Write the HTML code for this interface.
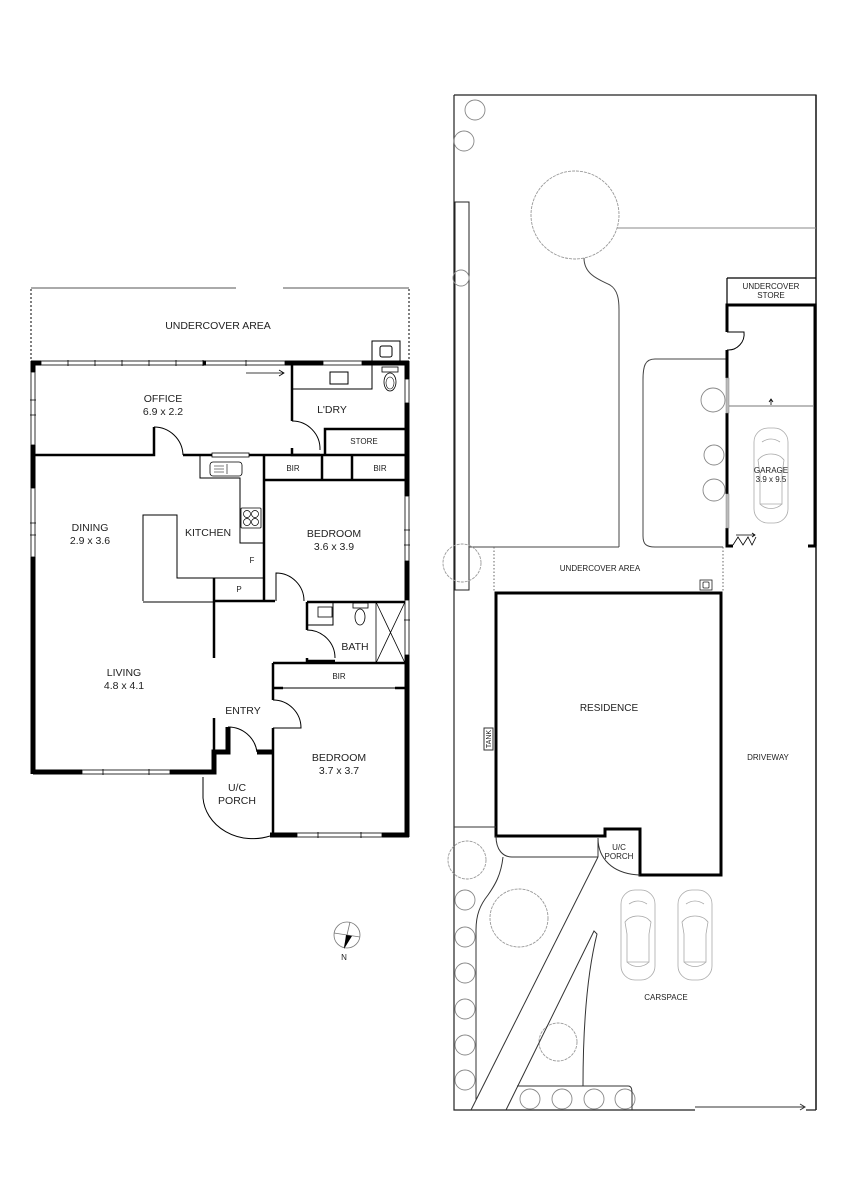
<!DOCTYPE html>
<html><head><meta charset="utf-8"><style>
html,body{margin:0;padding:0;background:#fff}
svg{display:block}
text{font-family:"Liberation Sans",sans-serif;fill:#222}
</style></head><body>
<svg width="849" height="1200" viewBox="0 0 849 1200" xmlns="http://www.w3.org/2000/svg">
<rect width="849" height="1200" fill="#fff"/>
<g fill="none" stroke="#000">
<path d="M31 289V362M409 289V362" stroke-dasharray="2,2" stroke-width="1"/>
<path d="M31 288H236M283 288H409" stroke="#555" stroke-width="1"/>
<path d="M31 363H41M285 363H323M362 363H409" stroke-width="5"/>
<rect x="41" y="361" width="244" height="4" stroke-width="0.8"/>
<rect x="323" y="361" width="39" height="4" stroke-width="0.8"/>
<path d="M68 360v6M95 360v6M122 360v6M149 360v6M176 360v6M203 360v6M246 360v6" stroke-width="0.8"/>
<path d="M203 363h3" stroke-width="5"/>
<path d="M246 373H284M279 370l5 3-5 3" stroke-width="0.8"/>
<path d="M33 361V372M33 445V488M33 557V774" stroke-width="5"/>
<rect x="31" y="372" width="4" height="73" stroke-width="0.8"/>
<rect x="31" y="488" width="4" height="69" stroke-width="0.8"/>
<path d="M30 400h6M30 415h6M30 523h6M30 535h6" stroke-width="0.8"/>
<path d="M407 361V379M407 403V496M407 561V600M407 655V837" stroke-width="5"/>
<rect x="405" y="379" width="4" height="24" stroke-width="0.8"/>
<rect x="405" y="496" width="4" height="65" stroke-width="0.8"/>
<rect x="405" y="600" width="4" height="55" stroke-width="0.8"/>
<path d="M404 530h6M404 545h6M404 620h6" stroke-width="0.8"/>
<path d="M33 455H154V427M183 455H212M249 455H405" stroke-width="2.5"/>
<path d="M154 427A29 29 0 0 1 183 455" stroke-width="1"/>
<rect x="212" y="453" width="37" height="4" stroke-width="0.8"/>
<path d="M292 365V421M292 448V455H320" stroke-width="2.5"/>
<path d="M292 421A28 28 0 0 1 320 450" stroke-width="1"/>
<path d="M292 389H372V365" stroke-width="1"/>
<rect x="330" y="372" width="18" height="12" stroke-width="1"/>
<rect x="372" y="341" width="28" height="22" stroke-width="1"/>
<rect x="380" y="346" width="12" height="11" rx="2" stroke-width="1"/>
<rect x="382" y="367" width="16" height="5" stroke-width="0.8"/>
<ellipse cx="390" cy="382" rx="6" ry="9" stroke-width="0.8"/>
<ellipse cx="390" cy="383" rx="4" ry="6" stroke-width="0.6"/>
<path d="M325 455V429H405" stroke-width="2.5"/>
<path d="M264 455V600" stroke-width="2.5"/>
<path d="M264 480H405M322 455V480M352 455V480" stroke-width="2.5"/>
<path d="M268 480H290M304 480H338M356 480H378M390 480H405" stroke-width="1"/>
<path d="M200 455V478H240V543H263" stroke-width="1"/>
<rect x="210" y="462" width="32" height="14" rx="3" stroke-width="0.8"/>
<path d="M214 466h10M214 469h10M214 472h10M227 464v10" stroke-width="0.6"/>
<rect x="241" y="508" width="20" height="20" rx="1" stroke-width="0.8"/>
<circle cx="247" cy="514" r="3.5" stroke-width="0.7"/><circle cx="255" cy="514" r="3.5" stroke-width="0.7"/>
<circle cx="247" cy="522" r="3.5" stroke-width="0.7"/><circle cx="255" cy="522" r="3.5" stroke-width="0.7"/>
<path d="M143 601V515H177V578H263" stroke-width="1"/>
<path d="M143 602H214" stroke-width="1"/>
<path d="M214 578V658M214 718V752" stroke-width="2.5"/>
<path d="M214 601H275" stroke-width="2.5"/>
<path d="M276 601V573A28 28 0 0 1 304 601" stroke-width="1"/>
<path d="M307 602H405M307 602V630M307 658V661H335" stroke-width="2.5"/>
<path d="M307 630A28 28 0 0 1 335 658" stroke-width="1"/>
<path d="M307 625H333V602" stroke-width="1"/>
<rect x="318" y="607" width="14" height="10" stroke-width="0.8"/>
<rect x="353" y="603" width="15" height="5" stroke-width="0.8"/>
<ellipse cx="360" cy="617" rx="5" ry="8" stroke-width="0.8"/>
<path d="M376 602V663M376 602L405 663M405 602L376 663" stroke-width="0.8"/>
<path d="M273 663H405M273 663V700M273 728V837" stroke-width="2.5"/>
<path d="M273 688H405" stroke-width="1"/>
<path d="M273 688h10M395 688h10" stroke-width="2.5"/>
<path d="M273 700A28 28 0 0 1 301 728H273" stroke-width="1"/>
<path d="M33 772H82M170 772H214V752H228V727M257 752H272" stroke-width="5"/>
<rect x="82" y="770" width="88" height="4" stroke-width="0.8"/>
<path d="M103 769v6M149 769v6" stroke-width="0.8"/>
<path d="M228 727A29 29 0 0 1 257 752" stroke-width="1"/>
<path d="M203 777V798A50 44 0 0 0 270 836" stroke-width="1"/>
<path d="M270 835H297M382 835H409" stroke-width="5"/>
<rect x="297" y="833" width="85" height="4" stroke-width="0.8"/>
<path d="M318 832v6M361 832v6" stroke-width="0.8"/>
</g>
<g font-size="10.5" text-anchor="middle">
<text x="218" y="329">UNDERCOVER AREA</text>
<text x="163" y="402">OFFICE</text><text x="163" y="415">6.9 x 2.2</text>
<text x="332" y="413">L'DRY</text>
<text x="90" y="531">DINING</text><text x="90" y="544">2.9 x 3.6</text>
<text x="208" y="536">KITCHEN</text>
<text x="334" y="537">BEDROOM</text><text x="334" y="550">3.6 x 3.9</text>
<text x="355" y="650">BATH</text>
<text x="124" y="676">LIVING</text><text x="124" y="689">4.8 x 4.1</text>
<text x="243" y="714">ENTRY</text>
<text x="339" y="761">BEDROOM</text><text x="339" y="774">3.7 x 3.7</text>
<text x="237" y="791">U/C</text><text x="237" y="804">PORCH</text>
</g>
<g font-size="8" text-anchor="middle">
<text x="364" y="444">STORE</text>
<text x="293" y="471">BIR</text><text x="380" y="471">BIR</text>
<text x="252" y="563">F</text><text x="239" y="592">P</text>
<text x="339" y="679">BIR</text>
</g>
<g fill="none" stroke="#777" stroke-width="0.8">
<circle cx="347" cy="935" r="13"/>
<path d="M334 933L360 937M350 922L344 948"/>
</g>
<path d="M346 935L352 936L344 949Z" fill="#000"/>
<text x="344" y="960" font-size="8" text-anchor="middle">N</text>

<g fill="none" stroke="#222" stroke-width="1">
<path d="M454 95H816V1110M454 95V1110H695M806 1110H816" stroke-width="1.2"/>
<path d="M816 95V1110" stroke-width="1.5"/>
<rect x="455" y="202" width="14" height="388"/>
<path d="M617 228H816" stroke="#888"/>
<path d="M584 258C584 275 600 280 610 285C618 290 619 300 619 310V547" stroke="#444"/>
<path d="M469 547H619" stroke="#444"/>
<path d="M727 359H655C645 359 643 366 643 380V536C643 544 646 547 655 547H723" stroke="#444"/>
<path d="M494 547V592M723 547V592" stroke-dasharray="1.5,2" stroke="#666"/>
<rect x="700" y="580" width="12" height="10" stroke-width="0.8"/>
<rect x="703" y="582" width="6" height="6" rx="1" stroke-width="0.8"/>
</g>
<g fill="none" stroke="#999" stroke-width="0.9" stroke-dasharray="3,1">
<circle cx="575" cy="215" r="44"/>
<circle cx="462" cy="563" r="19"/>
<circle cx="467" cy="860" r="19"/>
<circle cx="519" cy="918" r="29"/>
<circle cx="558" cy="1042" r="19"/>
</g>
<g fill="none" stroke="#888" stroke-width="0.9">
<circle cx="475" cy="110" r="10"/><circle cx="464" cy="141" r="10"/><circle cx="461" cy="278" r="8"/>
<circle cx="713" cy="400" r="12"/><circle cx="714" cy="455" r="10"/><circle cx="714" cy="490" r="11"/>
<circle cx="465" cy="900" r="10"/><circle cx="465" cy="937" r="10"/><circle cx="465" cy="973" r="10"/>
<circle cx="465" cy="1009" r="10"/><circle cx="465" cy="1045" r="10"/><circle cx="465" cy="1080" r="10"/>
<circle cx="530" cy="1099" r="10"/><circle cx="562" cy="1099" r="10"/><circle cx="594" cy="1099" r="10"/><circle cx="625" cy="1099" r="10"/>
</g>
<g fill="none" stroke="#000">
<path d="M727 278H816M727 278V305" stroke-width="1.2"/>
<path d="M727 350V378M727 413V494M727 528V546H733M727 332V305H815V546M808 546H816" stroke-width="3"/>
<path d="M727 332H744A16 16 0 0 1 727 350" stroke-width="1"/>
<rect x="726" y="378" width="3" height="35" fill="#bbb" stroke="#888" stroke-width="0.5"/>
<rect x="726" y="494" width="3" height="34" fill="#bbb" stroke="#888" stroke-width="0.5"/>
<path d="M729 406H813" stroke="#777" stroke-width="1"/>
<path d="M771 405V400M769 402L771 399L773 402" stroke-width="0.8"/>
<path d="M733 545L738 537L743 545L748 537L752 545L756 537M736 535H755M752 533l3 2-3 2" stroke-width="0.8"/>
</g>
<path d="M496 593H721V875H640V829H605V836H496Z" fill="none" stroke="#000" stroke-width="3"/>
<g fill="none" stroke="#333" stroke-width="1">
<path d="M454 827H496"/>
<rect x="484" y="728" width="9" height="22"/>
<path d="M496 836C496 850 503 857 512 857H598M598 840V857"/>
<path d="M598 838C598 858 612 874 640 875"/>
<path d="M598 857L471 1110"/>
<path d="M506 1110L594 931L597 934C588 970 583 1020 583 1086"/>
<path d="M517 1086H628C632 1086 632 1090 632 1095V1110"/>
<path d="M476 1100V930C476 915 480 905 488 895C495 885 501 875 503 857"/>
<path d="M695 1107H805M800 1104l5 3-5 3"/>
</g>
<g fill="none" stroke="#aaa" stroke-width="0.8">
<g transform="translate(619,890)">
<rect x="2" y="0" width="34" height="90" rx="14"/>
<path d="M6 32C12 24 26 24 32 32L30 44V72H8V44Z"/>
<path d="M8 72C14 78 24 78 30 72M10 14C16 10 22 10 28 14"/>
</g>
<g transform="translate(676,890)">
<rect x="2" y="0" width="34" height="90" rx="14"/>
<path d="M6 32C12 24 26 24 32 32L30 44V72H8V44Z"/>
<path d="M8 72C14 78 24 78 30 72M10 14C16 10 22 10 28 14"/>
</g>
<g transform="translate(752,428)">
<rect x="2" y="0" width="34" height="95" rx="14"/>
<path d="M6 32C12 24 26 24 32 32L30 46V76H8V46Z"/>
<path d="M8 76C14 82 24 82 30 76M10 14C16 10 22 10 28 14"/>
</g>
</g>
<g font-size="8" text-anchor="middle">
<text x="771" y="289">UNDERCOVER</text><text x="771" y="298">STORE</text>
<text x="771" y="473">GARAGE</text><text x="771" y="482">3.9 x 9.5</text>
<text x="600" y="571">UNDERCOVER AREA</text>
<text x="768" y="760">DRIVEWAY</text>
<text x="619" y="850">U/C</text><text x="619" y="859">PORCH</text>
<text x="666" y="1000">CARSPACE</text>
<text transform="translate(491,739) rotate(-90)" font-size="7">TANK</text>
</g>
<text x="609" y="711" font-size="10" text-anchor="middle">RESIDENCE</text>
</svg>
</body></html>
